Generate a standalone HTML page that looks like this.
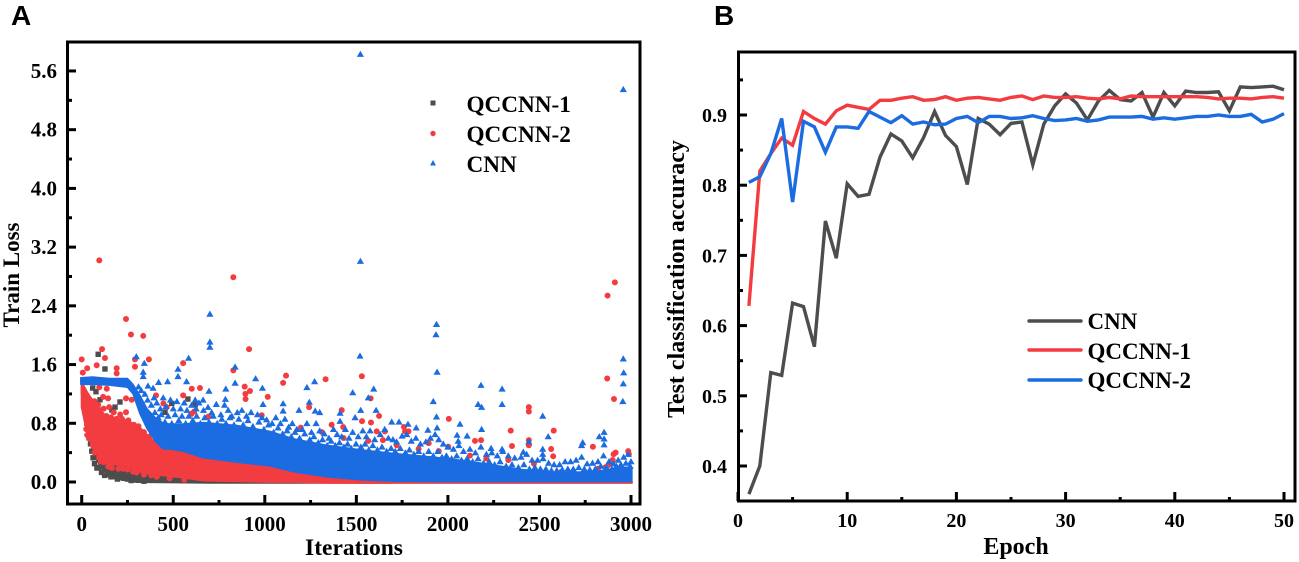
<!DOCTYPE html>
<html lang="en">
<head>
<meta charset="utf-8">
<title>Train loss and test accuracy charts</title>
<style>
html,body{margin:0;padding:0;background:#fff;width:1299px;height:562px;overflow:hidden}
svg{display:block}
text{font-family:"Liberation Serif",serif;font-weight:700;fill:#000}
.panel{font-family:"Liberation Sans",sans-serif;font-size:28px}
</style>
</head>
<body>
<svg id="chart" width="1299" height="562" viewBox="0 0 1299 562" xmlns="http://www.w3.org/2000/svg">
  <text class="panel" x="11" y="25">A</text>
  <text class="panel" x="714" y="25">B</text>
  <g id="panelA"></g>
  <g id="panelB"></g>
  <g>
    <rect x="430.5" y="100.5" width="5" height="5" fill="#4d4d4d"/>
    <text x="466.5" y="112" font-size="23.2">QCCNN-1</text>
    <circle cx="433" cy="133.5" r="2.7" fill="#f33c40"/>
    <text x="466.5" y="142" font-size="23.2">QCCNN-2</text>
    <path d="M433 160 L436 165.5 L430 165.5 Z" fill="#1b6ce0"/>
    <text x="466.5" y="172" font-size="23.2">CNN</text>
  </g>
  <g>
    <line x1="1029" x2="1081" y1="321" y2="321" stroke="#4d4d4d" stroke-width="3.4" stroke-linecap="round"/>
    <text x="1087.5" y="329" font-size="23">CNN</text>
    <line x1="1029" x2="1081" y1="350" y2="350" stroke="#f33c40" stroke-width="3.4" stroke-linecap="round"/>
    <text x="1087.5" y="359" font-size="23">QCCNN-1</text>
    <line x1="1029" x2="1081" y1="380" y2="380" stroke="#1b6ce0" stroke-width="3.4" stroke-linecap="round"/>
    <text x="1087.5" y="388" font-size="23">QCCNN-2</text>
  </g>
</svg>
<script>
// ---------- Panel A data: [iteration, loss] ----------
const lossXTicks = [0,500,1000,1500,2000,2500,3000];
const lossXMinor = [250,750,1250,1750,2250,2750];
const lossYTicks = ["0.0","0.8","1.6","2.4","3.2","4.0","4.8","5.6"];
const lossYMinor = [0.4,1.2,2.0,2.8,3.6,4.4,5.2];

// Dense clouds, read as an envelope of the saturated region [iteration, upper, lower]
const grayCloud = [[0,1.3,1.2],[20,1.2,.88],[45,1.0,.57],[72,.9,.34],[118,.8,.16],[172,.7,.05],[300,.5,.0],[700,.1,-.01],[1700,.05,-.01]];
const redCloud = [[0,1.36,1.02],[30,1.22,.66],[62,1.1,.46],[85,1.0,.37],[118,.89,.27],[140,.87,.25],[247,.84,.22],[318,.74,.14],[373,.6,.11],[446,.44,.09],[554,.42,.06],[663,.33,.02],[850,.29,.01],[1028,.22,0],[1155,.14,0],[1340,.08,-.01],[1520,.04,-.012],[2000,.01,-.012],[3005,.0,-.012]];
const blueCloud = [[-5,1.42,1.33],[60,1.43,1.33],[150,1.41,1.32],[250,1.41,1.29],[280,1.33,1.2],[318,1.18,.93],[356,1.0,.73],[400,.88,.56],[446,.8,.45],[482,.79,.45],[554,.79,.42],[663,.81,.33],[850,.77,.27],[1028,.69,.22],[1155,.59,.14],[1340,.5,.07],[1520,.44,.03],[1700,.39,.01],[2000,.32,.005],[2200,.25,.005],[2400,.17,.005],[2600,.13,.005],[2800,.14,.005],[2950,.2,.005],[3005,.2,.005]];

const grayPoints = [[90,1.74],[127,1.54],[78,1.23],[182,1.02],[209,1.09],[580,1.13],[492,1.07],[60,1.28],[100,1.12],[165,.98],[83,.19],[145,.1],[231,.05],[108,.13],[70,.25],[195,.04],[125,.09],[40,.6],[55,.42],[270,.02],[340,.01],[620,1.05],[455,.95],[28,.8],[48,.52],[62,.33],[92,.2],[160,.07],[210,.06],[250,.04],[300,.03],[15,1.0]];

const redPoints = [[96,3.02],[828,2.79],[2912,2.72],[2872,2.54],[242,2.22],[269,2.01],[336,1.99],[914,1.81],[0,1.67],[111,1.81],[291,1.67],[367,1.67],[554,1.62],[828,1.52],[890,1.3],[919,1.24],[894,1.2],[895,1.13],[1016,1.16],[1116,1.45],[1100,1.35],[1332,1.4],[601,1.27],[646,1.28],[127,1.69],[82,1.59],[30,1.55],[191,1.55],[191,1.48],[291,1.57],[6,1.49],[242,1.14],[273,1.12],[242,.95],[144,1.14],[117,1.16],[137,1.27],[96,1.29],[446,1.07],[464,1.02],[406,1.18],[554,1.18],[692,.89],[1242,1.02],[1312,.68],[1196,.74],[983,.91],[614,.96],[600,.93],[30,.64],[82,.46],[1530,1.44],[1578,1.14],[1624,.9],[1420,.98],[1531,.83],[1580,.81],[1428,.75],[1611,.69],[1656,.69],[1766,.69],[1785,.69],[1760,.75],[2005,.86],[1895,.53],[2002,.48],[2148,.56],[2181,.57],[2343,.7],[2350,.49],[2442,1.02],[2442,.96],[2442,.57],[2442,.5],[2578,.7],[2564,.45],[2575,.35],[2870,1.41],[2907,1.13],[2792,.48],[2916,.4],[2905,.38],[2900,.3],[2875,.23],[2985,.42],[2988,.38],[1645,.57],[1565,.56],[1430,.6],[1365,.78],[70,1.1],[55,1.0],[150,1.02],[175,.95],[210,.92],[120,1.0],[100,.98],[90,1.05],[20,1.1],[12,1.22],[45,.75],[60,.5],[75,.42],[95,.33],[120,.27],[165,.19],[225,.18],[280,.14],[340,.1],[410,.07],[2860,.2],[2890,.25],[2820,.18],[2470,.25],[2330,.3],[2120,.36],[1950,.42],[1840,.45],[1720,.5],[2620,.14],[2210,.32],
[40,1.12],[80,.98],[110,.92],[135,.9],[160,.88],[190,.86],[220,.86],[255,.84],[285,.78],[310,.76],[340,.68],[370,.62],[400,.54],[430,.5],[25,.72],[40,.6],[70,.4],[105,.28],[145,.21],[200,.18],[250,.17],[300,.13],[380,.09],[480,.05],[560,.03]];

const bluePoints = [[1522,5.83],[2958,5.35],[1522,3.01],[700,2.29],[700,1.91],[700,1.84],[298,1.71],[342,1.62],[336,1.5],[336,1.44],[584,1.69],[526,1.54],[526,1.44],[420,1.36],[469,1.37],[573,1.37],[838,1.57],[838,1.35],[695,1.24],[787,1.27],[950,1.41],[987,1.28],[1230,1.29],[1272,1.37],[1243,1.09],[1100,1.07],[1100,.97],[1187,.98],[1275,.97],[1300,.95],[990,1.06],[785,1.13],[663,1.12],[620,1.12],[390,1.28],[362,1.31],[1520,1.72],[1480,1.22],[1595,1.27],[1565,1.15],[1524,.98],[1608,.98],[1493,.88],[1411,.94],[1411,.83],[1693,.82],[1733,.82],[1782,.79],[1827,.74],[1891,.71],[1938,2.15],[1935,2.01],[1941,1.5],[1920,1.1],[1938,.89],[1941,.74],[2066,.79],[2105,.63],[2050,.64],[2056,.56],[2181,1.32],[2165,1.06],[2184,1.02],[2184,.72],[2296,1.27],[2296,1.06],[2518,.9],[2548,.62],[2442,.55],[2958,1.68],[2960,1.49],[2958,1.34],[2955,1.1],[2853,.68],[2827,.62],[2853,.59],[2853,.51],[2736,.54],[2730,.5],[2236,.46],[2296,.45],[2412,.41],[2518,.45],[2518,.38],
[310,1.3],[325,1.25],[345,1.2],[360,1.12],[380,1.05],[395,1.15],[410,1.08],[430,1.0],[445,1.15],[460,1.03],[485,1.12],[500,1.0],[520,1.1],[540,1.0],[560,1.08],[575,.98],[600,1.05],[625,1.0],[640,1.08],[665,.98],[690,1.02],[710,.95],[735,1.06],[760,.92],[780,1.05],[800,.98],[820,.9],[850,.95],[875,.98],[900,.9],[925,.95],[960,.92],[985,.88],[1010,.85],[1040,.8],[1060,.88],[1085,.8],[1110,.86],[1130,.75],[1150,.8],[1175,.72],[1205,.72],[1230,.8],[1255,.68],[1280,.8],[1300,.7],[1325,.66],[1350,.6],[1375,.72],[1395,.65],[1420,.62],[1440,.72],[1460,.6],[1480,.68],[1510,.62],[1535,.7],[1555,.62],[1575,.7],[1600,.58],[1630,.65],[1655,.72],[1675,.6],[1700,.58],[1720,.55],[1750,.63],[1775,.65],[1800,.56],[1825,.6],[1850,.52],[1880,.55],[1905,.6],[1930,.65],[1950,.58],[1975,.52],[2000,.48],[2030,.45],[2060,.5],[2085,.42],[2120,.45],[2150,.4],[2180,.48],[2210,.38],[2240,.4],[2270,.36],[2300,.42],[2330,.36],[2365,.33],[2400,.34],[2430,.38],[2460,.3],[2490,.3],[2520,.32],[2550,.26],[2580,.24],[2610,.24],[2640,.28],[2670,.28],[2700,.3],[2730,.34],[2760,.25],[2790,.26],[2820,.28],[2850,.36],[2880,.28],[2905,.25],[2930,.3],[2960,.34],[2985,.38],[3000,.28],
[400,.95],[418,.88],[435,.92],[455,.82],[472,.9],[492,.8],[510,.92],[530,.84],[548,.9],[568,.8],[585,.9],[607,.84],[628,.9],[648,.8],[672,.88],[695,.82],[718,.9],[740,.8],[765,.86],[788,.8],[810,.88],[832,.78],[858,.86],[882,.78],[908,.84],[935,.76],[968,.82],[995,.72],[1020,.78],[1048,.68],[1072,.74],[1098,.66],[1122,.7],[1145,.62],[1165,.68],[1190,.6],[1218,.66],[1245,.58],[1268,.62],[1292,.54],[1315,.58],[1340,.5],[1362,.56],[1385,.5],[1408,.54],[1432,.48],[1452,.52],[1472,.46],[1498,.52],[1525,.48],[1548,.52],[1568,.44],[1590,.5],[1615,.44],[1640,.48],[1665,.42],[1690,.46],[1712,.42],[1740,.46],[1768,.4],[1790,.44],[1815,.38],[1840,.42],[1868,.36],[1895,.42],[1920,.36],[1945,.42],[1968,.34],[1992,.36],[2020,.32],[2048,.36],[2075,.3],[2105,.32],[2135,.28],[2165,.32],[2195,.26],[2225,.28],[2255,.24],[2285,.28],[2318,.22],[2350,.24],[2385,.2],[2415,.24],[2445,.18],[2475,.2],[2505,.18],[2535,.18],[2565,.16],[2595,.16],[2625,.17],[2655,.18],[2685,.18],[2715,.2],[2745,.18],[2775,.17],[2805,.18],[2835,.22],[2865,.2],[2895,.18],[2920,.22],[2945,.24],[2972,.26],[2995,.22]];

// ---------- Panel B data ----------
const epochs = [1,2,3,4,5,6,7,8,9,10,11,12,13,14,15,16,17,18,19,20,21,22,23,24,25,26,27,28,29,30,31,32,33,34,35,36,37,38,39,40,41,42,43,44,45,46,47,48,49,50];
const cnnAccuracy = [.36,.40,.533,.529,.632,.627,.57,.749,.696,.802,.784,.787,.84,.873,.863,.839,.868,.905,.871,.855,.801,.895,.887,.872,.888,.89,.829,.887,.913,.93,.917,.893,.92,.935,.922,.92,.932,.897,.932,.913,.934,.932,.932,.933,.906,.94,.939,.94,.941,.936];
const qccnn1Accuracy = [.628,.82,.845,.867,.857,.905,.895,.887,.906,.914,.911,.908,.921,.921,.924,.926,.921,.922,.926,.921,.924,.925,.923,.921,.925,.927,.922,.927,.925,.925,.926,.924,.923,.925,.923,.927,.926,.926,.926,.926,.926,.926,.925,.923,.924,.924,.923,.925,.926,.924];
const qccnn2Accuracy = [.804,.812,.845,.895,.776,.891,.883,.847,.883,.883,.881,.905,.897,.889,.899,.887,.89,.886,.887,.895,.898,.889,.898,.898,.895,.896,.899,.895,.892,.893,.895,.891,.893,.897,.897,.897,.898,.894,.896,.894,.896,.898,.898,.9,.898,.898,.901,.89,.894,.902];
const accXTicks = [0,10,20,30,40,50];
const accXMinor = [5,15,25,35,45];
const accYTicks = ["0.4","0.5","0.6","0.7","0.8","0.9"];
const accYMinor = [.45,.55,.65,.75,.85,.95];

// ---------- Scales ----------
const lossX = v => 81.7 + v * 0.1831;
const lossY = v => 482 - v * 73.4;
const accX = v => 738 + v * 10.92;
const accY = v => 466 - (v - 0.4) * 702;

const NS = 'http://www.w3.org/2000/svg';
function make(parent, tag, attrs, txt) {
  const el = document.createElementNS(NS, tag);
  for (const k in attrs) el.setAttribute(k, attrs[k]);
  if (txt !== undefined) el.textContent = txt;
  parent.appendChild(el);
  return el;
}
const GRAY = '#4d4d4d', RED = '#f33c40', BLUE = '#1b6ce0';

function cloudPath(cloud) {
  const up = cloud.map(p => lossX(p[0]).toFixed(1) + ' ' + lossY(p[1]).toFixed(1));
  const lo = cloud.slice().reverse().map(p => lossX(p[0]).toFixed(1) + ' ' + lossY(p[2]).toFixed(1));
  return 'M' + up.concat(lo).join(' L') + ' Z';
}

const A = document.getElementById('panelA');
const B = document.getElementById('panelB');

// Panel A marks
const grayCloudEl = make(A, 'path', {d: cloudPath(grayCloud), fill: GRAY, stroke: GRAY, 'stroke-width': 2, 'stroke-linejoin': 'round'});


grayPoints.forEach(p => {
  const s = make(A, 'rect', {x: lossX(p[0]) - 2.7, y: lossY(p[1]) - 2.7, width: 5.4, height: 5.4, fill: GRAY});
  
  
});
const redCloudEl = make(A, 'path', {d: cloudPath(redCloud), fill: RED, stroke: RED, 'stroke-width': 2, 'stroke-linejoin': 'round'});


redPoints.forEach(p => {
  const c = make(A, 'circle', {cx: lossX(p[0]), cy: lossY(p[1]), r: 3, fill: RED});
  
  
});
const blueCloudEl = make(A, 'path', {d: cloudPath(blueCloud), fill: BLUE, stroke: BLUE, 'stroke-width': 1.5, 'stroke-linejoin': 'round'});


bluePoints.forEach(p => {
  const x = lossX(p[0]), y = lossY(p[1]);
  const t = make(A, 'path', {d: `M${x.toFixed(1)} ${(y - 3.4).toFixed(1)} L${(x + 3.6).toFixed(1)} ${(y + 2.8).toFixed(1)} L${(x - 3.6).toFixed(1)} ${(y + 2.8).toFixed(1)} Z`, fill: BLUE});
  
  
});

// Panel B lines
function drawLine(values, color, name) {
  const d = values.map((v, i) => (i ? 'L' : 'M') + accX(epochs[i]).toFixed(1) + ' ' + accY(v).toFixed(1)).join(' ');
  const l = make(B, 'path', {d: d, fill: 'none', stroke: color, 'stroke-width': 3.4, 'stroke-linejoin': 'miter'});
  
  
}
drawLine(cnnAccuracy, GRAY, 'cnn-line');
drawLine(qccnn1Accuracy, RED, 'qccnn-1-line');
drawLine(qccnn2Accuracy, BLUE, 'qccnn-2-line');

// Axes
function frame(parent, l, t, r, b, name) {
  const f = make(parent, 'path', {d: `M${l} ${t} H${r} V${b} H${l} Z`, fill: 'none', stroke: '#000', 'stroke-width': 3});
  
  
}
function tick(parent, x1, y1, x2, y2, name) {
  const t = make(parent, 'line', {x1: x1, y1: y1, x2: x2, y2: y2, stroke: '#000', 'stroke-width': 3});
  
  
}
function label(parent, x, y, size, anchor, str, name, rot) {
  const at = {x: x, y: y, 'font-size': size, 'text-anchor': anchor};
  if (rot) at.transform = `rotate(-90 ${x} ${y})`;
  const t = make(parent, 'text', at, str);
  
  
}

// Panel A axes
frame(A, 67.5, 42, 640, 504, 'train-loss-plot-frame');
lossXTicks.forEach(v => {
  tick(A, lossX(v), 504, lossX(v), 495, 'x-axis-major-tick');
  label(A, lossX(v), 531, 21, 'middle', String(v), 'x-axis-tick-label');
});
lossXMinor.forEach(v => tick(A, lossX(v), 504, lossX(v), 500, 'x-axis-minor-tick'));
lossYTicks.forEach(s => {
  const v = parseFloat(s);
  tick(A, 67.5, lossY(v), 76, lossY(v), 'y-axis-major-tick');
  label(A, 57, lossY(v) + 7, 21, 'end', s, 'y-axis-tick-label');
});
lossYMinor.forEach(v => tick(A, 67.5, lossY(v), 72, lossY(v), 'y-axis-minor-tick'));
label(A, 354, 555, 23.5, 'middle', 'Iterations', 'x-axis-title');
label(A, 19, 275, 23, 'middle', 'Train Loss', 'y-axis-title', true);

// Panel B axes
frame(B, 738.5, 52, 1295, 501, 'accuracy-plot-frame');
accXTicks.forEach(v => {
  tick(B, accX(v), 501, accX(v), 492, 'x-axis-major-tick');
  label(B, accX(v), 527, 20, 'middle', String(v), 'x-axis-tick-label');
});
accXMinor.forEach(v => tick(B, accX(v), 501, accX(v), 497, 'x-axis-minor-tick'));
accYTicks.forEach(s => {
  const v = parseFloat(s);
  tick(B, 738.5, accY(v), 747, accY(v), 'y-axis-major-tick');
  label(B, 727, accY(v) + 7, 20, 'end', s, 'y-axis-tick-label');
});
accYMinor.forEach(v => tick(B, 738.5, accY(v), 743, accY(v), 'y-axis-minor-tick'));
label(B, 1016, 554, 24, 'middle', 'Epoch', 'x-axis-title');
label(B, 684, 279, 24, 'middle', 'Test classification accuracy', 'y-axis-title', true);
</script>
</body>
</html>
